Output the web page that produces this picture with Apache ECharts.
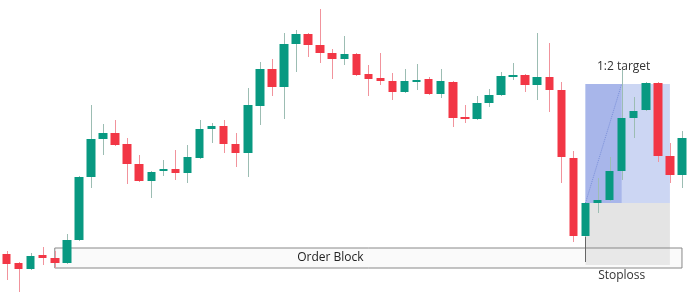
<!DOCTYPE html>
<html>
<head>
<meta charset="utf-8">
<script src="https://cdn.jsdelivr.net/npm/echarts@6/dist/echarts.min.js"></script>
<style>
html,body{margin:0;padding:0;background:#fff;}
#chart{width:689px;height:300px;}
</style>
</head>
<body>
<div id="chart"></div>
<script>
// Candle index labels
const categories = Array.from({length: 57}, (_, i) => String(i + 1));
// Prices (arbitrary units)
const opens  = [46,37,31,45,42,37,60,123,161,167,156,136,119,129,131,127,142,171,174,156,147,194,231,213,256,266,255,247,241,246,226,222,219,208,218,221,206,218,183,181,197,205,223,225,215,223,210,142,64,97,100,129,182,190,217,144,125];
const closes = [36,31,44,42,37,60,123,161,167,155,136,119,128,131,127,143,171,174,156,147,195,231,213,256,266,255,247,241,246,225,221,219,208,219,220,206,219,182,181,197,205,224,225,215,223,210,143,64,97,100,129,182,189,217,144,125,162];
const lows   = [20,8,30,35,32,36,59,112,145,154,116,118,102,124,120,117,141,157,147,133,123,175,204,181,228,243,237,221,235,224,204,215,200,207,210,205,202,173,177,180,193,204,220,208,200,188,117,58,63,87,99,120,162,189,138,117,112];
const highs  = [49,38,47,53,49,66,124,195,176,180,162,145,129,140,150,155,180,177,180,167,212,238,241,267,270,267,291,251,264,247,235,247,227,231,236,223,231,219,195,204,211,228,237,226,267,257,218,149,98,122,143,230,203,218,218,157,169];

// Annotation levels
const orderBlock = {from: 4, to: 56, low: 32, high: 52, label: 'Order Block'};
const tradeEntryIdx = 48, tradeTargetIdx = 51, tradeEndIdx = 55;
const entryPrice = 97, targetPrice = 216, stopPrice = 35;
const entryMarkLow = 38, entryMarkHigh = 63;
const targetLabel = '1:2 target', stopLabel = 'Stoploss';

const UP = '#089981', DOWN = '#f23645';
const UP_WICK = '#9cbdb3', DOWN_WICK = '#f1939c';

const bodies = opens.map((o, i) => [o, closes[i], Math.min(o, closes[i]), Math.max(o, closes[i])]);
const wicks = opens.map((o, i) => [i, lows[i], highs[i], closes[i] > o ? 1 : -1]);

const chart = echarts.init(document.getElementById('chart'), null, {renderer: 'canvas'});
const font = '"Open Sans", "Noto Sans", sans-serif';

chart.setOption({
  animation: false,
  backgroundColor: '#fff',
  grid: {left: 0.5, right: 1, top: 0, bottom: 0},
  xAxis: {type: 'category', data: categories, boundaryGap: true, show: false},
  yAxis: {type: 'value', min: 0, max: 300, show: false},
  series: [
    {
      type: 'line', data: [], z: 1, silent: true,
      markArea: {
        silent: true,
        data: [
          [{coord: [String(tradeEntryIdx + 1), entryPrice], itemStyle: {color: '#e4e4e4'},
            label: {show: true, position: 'bottom', distance: 5, offset: [-6, 0], formatter: stopLabel, color: '#333', fontSize: 12, fontFamily: font}},
           {coord: [String(tradeEndIdx + 1), stopPrice]}],
          [{coord: [String(tradeEntryIdx + 1), targetPrice], itemStyle: {color: '#ccd6f3'},
            label: {show: true, position: 'top', distance: 11, offset: [-4, 0], formatter: targetLabel, color: '#333', fontSize: 12, fontFamily: font}},
           {coord: [String(tradeEndIdx + 1), entryPrice]}],
          [{coord: [String(tradeEntryIdx + 1), targetPrice], itemStyle: {color: '#a8b6ea'}, label: {show: false}},
           {coord: [String(tradeTargetIdx + 1), entryPrice]}]
        ]
      }
    },
    {
      type: 'line', data: [], z: 2, silent: true,
      markArea: {
        silent: true,
        data: [
          [{coord: [String(orderBlock.from + 1), orderBlock.high],
            itemStyle: {color: 'rgba(240,240,240,0.35)', borderColor: '#888', borderWidth: 1},
            label: {show: true, position: 'inside', offset: [-38, 0], formatter: orderBlock.label, color: '#222', fontSize: 12, fontFamily: font}},
           {coord: [String(orderBlock.to + 1), orderBlock.low]}]
        ]
      },
      markLine: {
        silent: true, symbol: 'none', label: {show: false},
        data: [
          [{coord: [String(tradeEntryIdx + 1), entryPrice], lineStyle: {color: '#7a8fd9', type: 'dotted', width: 1}},
           {coord: [String(tradeTargetIdx + 1), targetPrice]}],
          [{coord: [String(tradeEntryIdx + 1), entryMarkHigh], lineStyle: {color: '#666', type: 'solid', width: 1}},
           {coord: [String(tradeEntryIdx + 1), entryMarkLow]}]
        ]
      }
    },
    {
      type: 'custom', z: 3, silent: true,
      data: wicks,
      renderItem: function (params, api) {
        const i = api.value(0);
        const lo = api.coord([i, api.value(1)]);
        const hi = api.coord([i, api.value(2)]);
        const x = Math.round(lo[0]) + 0.5;
        return {type: 'line', shape: {x1: x, y1: lo[1], x2: x, y2: hi[1]},
          style: {stroke: api.value(3) > 0 ? UP_WICK : DOWN_WICK, lineWidth: 1}};
      }
    },
    {
      type: 'candlestick', z: 4, silent: true,
      data: bodies,
      barWidth: 9,
      itemStyle: {color: UP, color0: DOWN, borderColor: UP, borderColor0: DOWN, borderWidth: 0}
    }
  ]
});
</script>
</body>
</html>
